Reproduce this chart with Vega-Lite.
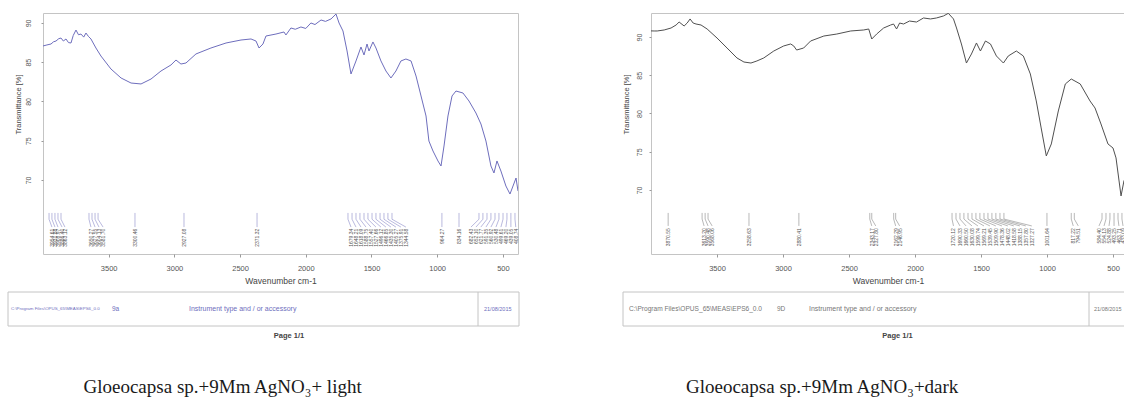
{
  "$schema": "https://vega.github.io/schema/vega-lite/v6.json",
  "background": "white",
  "padding": {"left": 7, "top": 12, "right": 0, "bottom": 0},
  "config": {
    "view": {"stroke": "#c4c4c4", "strokeWidth": 1},
    "font": "Liberation Sans",
    "axis": {"domain": false, "grid": false, "tickColor": "#9a9a9a", "labelColor": "#555555", "titleColor": "#444444", "labelFont": "Liberation Sans", "titleFont": "Liberation Sans", "titleFontWeight": "normal"}
  },
  "datasets": {
    "L": [
      {"w": 4000, "t": 87.07}, {"w": 3970, "t": 87.2}, {"w": 3939, "t": 87.32}, {"w": 3920, "t": 87.6}, {"w": 3901, "t": 87.7}, {"w": 3880, "t": 88.0}, {"w": 3863, "t": 88.08}, {"w": 3845, "t": 87.7}, {"w": 3825, "t": 87.96}, {"w": 3806, "t": 87.5}, {"w": 3787, "t": 87.45}, {"w": 3770, "t": 88.4}, {"w": 3749, "t": 89.1}, {"w": 3730, "t": 88.5}, {"w": 3711, "t": 88.59}, {"w": 3690, "t": 88.2}, {"w": 3673, "t": 88.72}, {"w": 3655, "t": 88.3}, {"w": 3635, "t": 87.96}, {"w": 3597, "t": 86.81}, {"w": 3559, "t": 85.79}, {"w": 3483, "t": 84.14}, {"w": 3406, "t": 82.99}, {"w": 3330, "t": 82.35}, {"w": 3254, "t": 82.23}, {"w": 3178, "t": 82.86}, {"w": 3102, "t": 83.88}, {"w": 3026, "t": 84.65}, {"w": 2988, "t": 85.28}, {"w": 2950, "t": 84.77}, {"w": 2912, "t": 84.9}, {"w": 2836, "t": 86.05}, {"w": 2722, "t": 86.81}, {"w": 2607, "t": 87.45}, {"w": 2493, "t": 87.83}, {"w": 2417, "t": 87.96}, {"w": 2379, "t": 87.7}, {"w": 2356, "t": 86.81}, {"w": 2326, "t": 87.32}, {"w": 2303, "t": 88.34}, {"w": 2227, "t": 88.59}, {"w": 2166, "t": 88.85}, {"w": 2151, "t": 88.47}, {"w": 2113, "t": 89.36}, {"w": 2080, "t": 89.2}, {"w": 2037, "t": 89.49}, {"w": 2000, "t": 89.3}, {"w": 1961, "t": 90.0}, {"w": 1930, "t": 89.8}, {"w": 1884, "t": 90.38}, {"w": 1850, "t": 90.2}, {"w": 1808, "t": 90.51}, {"w": 1770, "t": 91.14}, {"w": 1747, "t": 90.0}, {"w": 1717, "t": 88.98}, {"w": 1686, "t": 86.43}, {"w": 1656, "t": 83.5}, {"w": 1618, "t": 85.16}, {"w": 1580, "t": 86.94}, {"w": 1557, "t": 85.92}, {"w": 1534, "t": 87.32}, {"w": 1519, "t": 86.43}, {"w": 1489, "t": 87.58}, {"w": 1466, "t": 86.81}, {"w": 1428, "t": 85.16}, {"w": 1390, "t": 83.88}, {"w": 1352, "t": 82.99}, {"w": 1314, "t": 83.88}, {"w": 1276, "t": 85.16}, {"w": 1238, "t": 85.41}, {"w": 1199, "t": 85.16}, {"w": 1161, "t": 83.24}, {"w": 1123, "t": 80.7}, {"w": 1085, "t": 78.15}, {"w": 1063, "t": 74.96}, {"w": 1032, "t": 73.69}, {"w": 994, "t": 72.42}, {"w": 971, "t": 71.78}, {"w": 948, "t": 74.33}, {"w": 918, "t": 78.15}, {"w": 887, "t": 80.7}, {"w": 857, "t": 81.33}, {"w": 804, "t": 81.08}, {"w": 758, "t": 80.06}, {"w": 705, "t": 78.53}, {"w": 667, "t": 77.13}, {"w": 629, "t": 74.96}, {"w": 591, "t": 71.78}, {"w": 568, "t": 70.89}, {"w": 545, "t": 72.42}, {"w": 515, "t": 71.14}, {"w": 477, "t": 69.23}, {"w": 446, "t": 68.21}, {"w": 423, "t": 69.23}, {"w": 400, "t": 70.25}, {"w": 385, "t": 68.59}
    ],
    "R": [
      {"w": 4000, "t": 90.8}, {"w": 3976, "t": 90.79}, {"w": 3953, "t": 90.79}, {"w": 3900, "t": 90.92}, {"w": 3848, "t": 91.18}, {"w": 3810, "t": 91.57}, {"w": 3787, "t": 91.96}, {"w": 3749, "t": 91.44}, {"w": 3726, "t": 91.83}, {"w": 3704, "t": 92.36}, {"w": 3681, "t": 91.83}, {"w": 3659, "t": 91.7}, {"w": 3621, "t": 91.57}, {"w": 3575, "t": 91.05}, {"w": 3500, "t": 89.87}, {"w": 3424, "t": 88.56}, {"w": 3349, "t": 87.26}, {"w": 3296, "t": 86.73}, {"w": 3243, "t": 86.6}, {"w": 3198, "t": 86.87}, {"w": 3146, "t": 87.26}, {"w": 3070, "t": 88.17}, {"w": 2995, "t": 88.83}, {"w": 2942, "t": 89.09}, {"w": 2919, "t": 88.83}, {"w": 2897, "t": 88.3}, {"w": 2844, "t": 88.56}, {"w": 2791, "t": 89.48}, {"w": 2691, "t": 90.13}, {"w": 2593, "t": 90.39}, {"w": 2487, "t": 90.79}, {"w": 2389, "t": 90.92}, {"w": 2351, "t": 91.05}, {"w": 2328, "t": 89.74}, {"w": 2291, "t": 90.39}, {"w": 2238, "t": 91.18}, {"w": 2185, "t": 91.57}, {"w": 2163, "t": 91.7}, {"w": 2140, "t": 91.05}, {"w": 2117, "t": 91.83}, {"w": 2087, "t": 91.7}, {"w": 2042, "t": 92.09}, {"w": 1989, "t": 91.96}, {"w": 1936, "t": 92.49}, {"w": 1883, "t": 92.36}, {"w": 1838, "t": 92.49}, {"w": 1785, "t": 92.75}, {"w": 1748, "t": 93.1}, {"w": 1709, "t": 92.36}, {"w": 1686, "t": 91.18}, {"w": 1649, "t": 89.09}, {"w": 1611, "t": 86.6}, {"w": 1573, "t": 87.78}, {"w": 1535, "t": 89.22}, {"w": 1505, "t": 88.17}, {"w": 1467, "t": 89.48}, {"w": 1429, "t": 89.09}, {"w": 1384, "t": 87.52}, {"w": 1331, "t": 86.6}, {"w": 1294, "t": 87.52}, {"w": 1233, "t": 88.17}, {"w": 1180, "t": 87.52}, {"w": 1127, "t": 85.17}, {"w": 1082, "t": 81.64}, {"w": 1045, "t": 78.11}, {"w": 1006, "t": 74.45}, {"w": 968, "t": 76.02}, {"w": 915, "t": 80.33}, {"w": 862, "t": 83.86}, {"w": 817, "t": 84.51}, {"w": 749, "t": 83.86}, {"w": 675, "t": 81.64}, {"w": 637, "t": 80.72}, {"w": 592, "t": 78.63}, {"w": 539, "t": 76.02}, {"w": 501, "t": 75.49}, {"w": 478, "t": 74.19}, {"w": 440, "t": 69.22}, {"w": 418, "t": 71.18}, {"w": 410, "t": 71.44}
    ],
    "LP": [
      {"p": 3954, "l": 3932, "s": "3954.61"}, {"p": 3932, "l": 3909, "s": "3931.88"}, {"p": 3909, "l": 3886, "s": "3908.97"}, {"p": 3886, "l": 3855, "s": "3886.40"}, {"p": 3863, "l": 3833, "s": "3863.12"},
      {"p": 3650, "l": 3635, "s": "3650.27"}, {"p": 3627, "l": 3604, "s": "3627.55"}, {"p": 3604, "l": 3574, "s": "3604.13"}, {"p": 3581, "l": 3543, "s": "3581.70"},
      {"p": 3300, "l": 3300, "s": "3300.46"}, {"p": 2927, "l": 2927, "s": "2927.08"}, {"p": 2371, "l": 2371, "s": "2371.32"},
      {"p": 1679, "l": 1656, "s": "1679.34"}, {"p": 1648, "l": 1618, "s": "1648.21"}, {"p": 1618, "l": 1580, "s": "1618.09"}, {"p": 1588, "l": 1542, "s": "1588.75"}, {"p": 1557, "l": 1504, "s": "1557.40"}, {"p": 1527, "l": 1466, "s": "1527.66"}, {"p": 1496, "l": 1428, "s": "1496.12"}, {"p": 1466, "l": 1390, "s": "1466.85"}, {"p": 1435, "l": 1352, "s": "1435.30"}, {"p": 1405, "l": 1314, "s": "1405.27"}, {"p": 1375, "l": 1276, "s": "1375.91"}, {"p": 1344, "l": 1238, "s": "1344.58"},
      {"p": 964, "l": 964, "s": "964.27"}, {"p": 834, "l": 834, "s": "834.16"},
      {"p": 682, "l": 743, "s": "682.43"}, {"p": 652, "l": 705, "s": "652.10"}, {"p": 621, "l": 668, "s": "621.77"}, {"p": 591, "l": 629, "s": "591.35"}, {"p": 560, "l": 591, "s": "560.92"}, {"p": 530, "l": 553, "s": "530.48"}, {"p": 499, "l": 515, "s": "499.61"}, {"p": 469, "l": 477, "s": "469.20"}, {"p": 439, "l": 439, "s": "439.05"}, {"p": 408, "l": 402, "s": "408.74"}
    ],
    "RP": [
      {"p": 3870, "l": 3870, "s": "3870.55"},
      {"p": 3613, "l": 3598, "s": "3613.20"}, {"p": 3590, "l": 3568, "s": "3590.48"}, {"p": 3568, "l": 3537, "s": "3568.06"},
      {"p": 3258, "l": 3258, "s": "3258.63"}, {"p": 2880, "l": 2880, "s": "2880.41"},
      {"p": 2343, "l": 2328, "s": "2343.17"}, {"p": 2328, "l": 2298, "s": "2327.80"},
      {"p": 2162, "l": 2147, "s": "2162.29"}, {"p": 2147, "l": 2117, "s": "2146.95"},
      {"p": 1720, "l": 1709, "s": "1720.12"}, {"p": 1690, "l": 1660, "s": "1690.33"}, {"p": 1660, "l": 1614, "s": "1660.50"}, {"p": 1630, "l": 1569, "s": "1630.08"}, {"p": 1599, "l": 1524, "s": "1599.74"}, {"p": 1569, "l": 1478, "s": "1569.21"}, {"p": 1539, "l": 1433, "s": "1539.45"}, {"p": 1509, "l": 1388, "s": "1509.90"}, {"p": 1478, "l": 1342, "s": "1478.36"}, {"p": 1448, "l": 1297, "s": "1448.02"}, {"p": 1418, "l": 1252, "s": "1418.58"}, {"p": 1388, "l": 1206, "s": "1388.15"}, {"p": 1357, "l": 1161, "s": "1357.80"}, {"p": 1327, "l": 1116, "s": "1327.27"},
      {"p": 1001, "l": 1001, "s": "1001.64"},
      {"p": 817, "l": 802, "s": "817.22"}, {"p": 794, "l": 764, "s": "794.51"},
      {"p": 584, "l": 607, "s": "584.40"}, {"p": 554, "l": 569, "s": "554.13"}, {"p": 524, "l": 531, "s": "524.88"}, {"p": 493, "l": 493, "s": "493.25"}, {"p": 463, "l": 456, "s": "463.71"}, {"p": 433, "l": 425, "s": "433.09"}
    ],
    "LF": [
      {"k": "path", "s": "C:\\Program Files\\OPUS_65\\MEAS\\EPS6_0.0"},
      {"k": "id", "s": "9a"},
      {"k": "instr", "s": "Instrument type and / or accessory"},
      {"k": "date", "s": "21/08/2015"}
    ],
    "RF": [
      {"k": "path", "s": "C:\\Program Files\\OPUS_65\\MEAS\\EPS6_0.0"},
      {"k": "id", "s": "9D"},
      {"k": "instr", "s": "Instrument type and / or accessory"},
      {"k": "date", "s": "21/08/2015"}
    ]
  },
  "spacing": 101,
  "hconcat": [
    {
      "columns": 1,
      "spacing": 5,
      "title": {"text": "Gloeocapsa sp.+9Mm AgNO₃+ light", "orient": "bottom", "anchor": "start", "dx": 76, "offset": 39, "font": "Liberation Serif", "fontSize": 19, "fontWeight": "normal", "color": "#1a1a1a"},
      "concat": [
        {
          "width": 475,
          "height": 241,
          "layer": [
            {
              "data": {"name": "L"},
              "mark": {"type": "line", "color": "#6e6ebd", "strokeWidth": 1, "clip": true},
              "encoding": {
                "x": {"field": "w", "type": "quantitative", "scale": {"domain": [385, 4000], "reverse": true, "nice": false, "zero": false},
                      "axis": {"values": [500, 1000, 1500, 2000, 2500, 3000, 3500], "format": "d", "title": "Wavenumber cm-1", "tickSize": 3, "labelPadding": 7, "titlePadding": 5, "labelFontSize": 7.5, "titleFontSize": 8.5}},
                "y": {"field": "t", "type": "quantitative", "scale": {"domain": [60.57, 91.27], "nice": false, "zero": false},
                      "axis": {"values": [70, 75, 80, 85, 90], "title": "Transmittance [%]", "tickSize": 2, "labelAngle": 270, "labelPadding": 9.5, "labelFontSize": 7, "titleFontSize": 7.5, "titlePadding": 2, "titleY": 91}}
              }
            },
            {
              "data": {"name": "LP"},
              "mark": {"type": "rule", "color": "#8a8ac8", "strokeWidth": 0.6},
              "encoding": {"x": {"field": "p", "type": "quantitative"}, "y": {"datum": 65.8}, "y2": {"datum": 65.0}}
            },
            {
              "data": {"name": "LP"},
              "mark": {"type": "rule", "color": "#8a8ac8", "strokeWidth": 0.6},
              "encoding": {"x": {"field": "p", "type": "quantitative"}, "x2": {"field": "l"}, "y": {"datum": 65.0}, "y2": {"datum": 64.0}}
            },
            {
              "data": {"name": "LP"},
              "mark": {"type": "text", "angle": 270, "align": "right", "baseline": "middle", "fontSize": 5, "color": "#555555"},
              "encoding": {"x": {"field": "l", "type": "quantitative"}, "y": {"datum": 63.8}, "text": {"field": "s"}}
            }
          ]
        },
        {
          "width": 476,
          "height": 34,
          "view": {"stroke": null},
          "title": {"text": "Page 1/1", "orient": "bottom", "anchor": "middle", "dx": 8, "offset": 5, "fontSize": 7.5, "fontWeight": "bold", "color": "#444444"},
          "layer": [
            {
              "data": {"values": [{}]},
              "mark": {"type": "rect", "fill": "white", "fillOpacity": 0, "stroke": "#c4c4c4", "strokeWidth": 1},
              "encoding": {"x": {"datum": 0, "type": "quantitative", "scale": {"domain": [35, 511], "nice": false, "zero": false}, "axis": null}, "x2": {"datum": 511}}
            },
            {
              "data": {"name": "LF"},
              "transform": [{"filter": "datum.k == 'path'"}],
              "mark": {"type": "text", "align": "left", "fontSize": 4.4, "color": "#6e6ebd"},
              "encoding": {"x": {"datum": 3, "type": "quantitative"}, "text": {"field": "s"}}
            },
            {
              "data": {"name": "LF"},
              "transform": [{"filter": "datum.k == 'id'"}],
              "mark": {"type": "text", "align": "left", "fontSize": 6.5, "color": "#6e6ebd"},
              "encoding": {"x": {"datum": 104, "type": "quantitative"}, "text": {"field": "s"}}
            },
            {
              "data": {"name": "LF"},
              "transform": [{"filter": "datum.k == 'instr'"}],
              "mark": {"type": "text", "align": "left", "fontSize": 7, "color": "#6e6ebd"},
              "encoding": {"x": {"datum": 181, "type": "quantitative"}, "text": {"field": "s"}}
            },
            {
              "data": {"name": "LF"},
              "transform": [{"filter": "datum.k == 'date'"}],
              "mark": {"type": "text", "align": "left", "fontSize": 5.5, "color": "#6e6ebd"},
              "encoding": {"x": {"datum": 476, "type": "quantitative"}, "text": {"field": "s"}}
            },
            {
              "data": {"values": [{}]},
              "mark": {"type": "rule", "color": "#c4c4c4"},
              "encoding": {"x": {"datum": 470, "type": "quantitative"}}
            }
          ]
        }
      ]
    },
    {
      "columns": 1,
      "spacing": 5,
      "title": {"text": "Gloeocapsa sp.+9Mm AgNO₃+dark", "orient": "bottom", "anchor": "start", "dx": 64, "offset": 39, "font": "Liberation Serif", "fontSize": 19, "fontWeight": "normal", "color": "#1a1a1a"},
      "concat": [
        {
          "width": 474,
          "height": 241,
          "layer": [
            {
              "data": {"name": "R"},
              "mark": {"type": "line", "color": "#505050", "strokeWidth": 1, "clip": true},
              "encoding": {
                "x": {"field": "w", "type": "quantitative", "scale": {"domain": [410, 4000], "reverse": true, "nice": false, "zero": false},
                      "axis": {"values": [500, 1000, 1500, 2000, 2500, 3000, 3500], "format": "d", "title": "Wavenumber cm-1", "tickSize": 3, "labelPadding": 7, "titlePadding": 5, "labelFontSize": 7.5, "titleFontSize": 8.5}},
                "y": {"field": "t", "type": "quantitative", "scale": {"domain": [61.63, 93.14], "nice": false, "zero": false},
                      "axis": {"values": [70, 75, 80, 85, 90], "title": "Transmittance [%]", "tickSize": 2, "labelAngle": 270, "labelPadding": 6.5, "labelFontSize": 7, "titleFontSize": 7.5, "titlePadding": 5, "titleY": 91}}
              }
            },
            {
              "data": {"name": "RP"},
              "mark": {"type": "rule", "color": "#888888", "strokeWidth": 0.6},
              "encoding": {"x": {"field": "p", "type": "quantitative"}, "y": {"datum": 67.0}, "y2": {"datum": 66.2}}
            },
            {
              "data": {"name": "RP"},
              "mark": {"type": "rule", "color": "#888888", "strokeWidth": 0.6},
              "encoding": {"x": {"field": "p", "type": "quantitative"}, "x2": {"field": "l"}, "y": {"datum": 66.2}, "y2": {"datum": 65.3}}
            },
            {
              "data": {"name": "RP"},
              "mark": {"type": "text", "angle": 270, "align": "right", "baseline": "middle", "fontSize": 5, "color": "#555555"},
              "encoding": {"x": {"field": "l", "type": "quantitative"}, "y": {"datum": 65.0}, "text": {"field": "s"}}
            }
          ]
        },
        {
          "width": 477,
          "height": 34,
          "view": {"stroke": null},
          "title": {"text": "Page 1/1", "orient": "bottom", "anchor": "middle", "dx": 8, "offset": 5, "fontSize": 7.5, "fontWeight": "bold", "color": "#444444"},
          "layer": [
            {
              "data": {"values": [{}]},
              "mark": {"type": "rect", "fill": "white", "fillOpacity": 0, "stroke": "#c4c4c4", "strokeWidth": 1},
              "encoding": {"x": {"datum": 0, "type": "quantitative", "scale": {"domain": [28, 505], "nice": false, "zero": false}, "axis": null}, "x2": {"datum": 504}}
            },
            {
              "data": {"name": "RF"},
              "transform": [{"filter": "datum.k == 'path'"}],
              "mark": {"type": "text", "align": "left", "fontSize": 6.6, "color": "#777777"},
              "encoding": {"x": {"datum": 6, "type": "quantitative"}, "text": {"field": "s"}}
            },
            {
              "data": {"name": "RF"},
              "transform": [{"filter": "datum.k == 'id'"}],
              "mark": {"type": "text", "align": "left", "fontSize": 6.5, "color": "#777777"},
              "encoding": {"x": {"datum": 154, "type": "quantitative"}, "text": {"field": "s"}}
            },
            {
              "data": {"name": "RF"},
              "transform": [{"filter": "datum.k == 'instr'"}],
              "mark": {"type": "text", "align": "left", "fontSize": 7, "color": "#777777"},
              "encoding": {"x": {"datum": 186, "type": "quantitative"}, "text": {"field": "s"}}
            },
            {
              "data": {"name": "RF"},
              "transform": [{"filter": "datum.k == 'date'"}],
              "mark": {"type": "text", "align": "left", "fontSize": 5.5, "color": "#777777"},
              "encoding": {"x": {"datum": 471, "type": "quantitative"}, "text": {"field": "s"}}
            },
            {
              "data": {"values": [{}]},
              "mark": {"type": "rule", "color": "#c4c4c4"},
              "encoding": {"x": {"datum": 466, "type": "quantitative"}}
            }
          ]
        }
      ]
    }
  ]
}
